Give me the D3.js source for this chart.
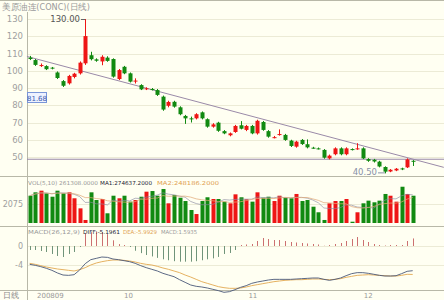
<!DOCTYPE html>
<meta charset="utf-8">
<html>
<head>
<style>
  body { margin: 0; background: #fffff2; }
  svg text { font-family: "DejaVu Sans", sans-serif; }
</style>
</head>
<body>
<div id="chart"></div>
<script src="https://d3js.org/d3.v7.min.js"></script>
<script>
  // daily candles, Sep - Dec 2008
  var opens  = [107.6,106.2,102.9,102.7,101.8,99.0,94.0,92.7,96.4,98.5,104.3,109.0,106.6,105.4,107.6,106.8,95.2,102.3,98.5,94.0,
                91.7,89.3,89.4,88.8,85.0,79.7,82.0,78.8,73.8,72.4,72.4,75.9,71.9,67.6,69.9,65.0,62.6,64.5,68.4,65.7,
                68.0,63.7,70.3,65.0,61.3,63.0,62.8,59.5,56.0,59.9,57.4,55.4,55.0,54.1,49.2,51.6,55.0,51.6,54.6,54.8,
                55.0,48.8,48.4,47.3,44.2,41.6,42.2,43.4,44.0,47.8];
  var highs  = [108.6,106.8,104.2,103.2,102.2,99.6,94.6,97.6,98.8,105.4,130.0,111.0,107.2,109.0,108.4,107.2,101.0,102.8,99.0,95.6,
                92.2,90.4,90.0,89.4,85.6,82.6,82.6,79.4,74.4,73.4,75.4,76.4,72.4,69.6,70.4,65.6,64.2,68.6,70.8,68.6,
                68.6,71.6,70.9,65.6,62.2,66.0,63.4,60.0,59.4,60.4,60.2,55.9,55.5,54.6,51.4,55.6,55.6,55.6,55.0,58.0,
                55.6,49.3,48.9,47.8,44.6,43.0,43.6,43.8,49.2,48.2];
  var lows   = [106.2,102.8,102.2,100.4,100.8,95.2,90.6,92.0,95.6,97.8,103.4,106.0,105.2,103.2,105.2,96.0,94.6,98.0,93.2,92.6,
                88.8,88.8,88.6,85.4,76.8,78.8,78.6,74.2,69.2,70.0,71.8,71.8,67.0,67.0,64.6,63.2,62.0,64.0,66.0,65.0,
                63.2,63.0,65.2,61.2,60.8,62.4,59.4,55.8,55.4,57.0,55.0,54.8,54.4,49.0,48.6,51.0,51.0,51.0,53.8,54.2,
                48.8,47.2,46.8,44.0,40.5,41.2,41.8,42.4,43.6,44.8];
  var closes = [106.8,103.4,103.3,100.9,101.5,95.8,91.3,97.0,98.3,104.7,120.1,106.7,105.8,108.1,105.7,96.6,100.4,98.5,93.7,94.3,
                89.2,89.8,89.1,86.0,77.5,81.9,79.2,74.8,72.4,72.1,74.8,72.4,67.6,68.9,65.2,63.7,63.7,68.0,66.4,68.0,
                63.7,71.0,65.7,61.8,61.5,63.3,59.9,56.4,58.9,57.5,55.6,55.2,54.8,49.6,50.8,55.0,51.6,55.0,54.4,55.0,
                49.2,47.8,47.4,44.5,41.5,42.6,43.2,42.8,48.6,47.5];
  var volumes = [298000,335000,353000,324000,287000,353000,324000,335000,270000,160000,33000,335000,251000,262000,106000,298000,270000,298000,233000,251000,
                 287000,342000,349000,298000,371000,215000,306000,276000,240000,142000,98000,240000,281000,262000,262000,233000,215000,313000,281000,259000,
                 233000,335000,276000,287000,240000,298000,276000,270000,317000,240000,251000,178000,117000,33000,215000,240000,240000,262000,14000,117000,
                 215000,244000,226000,244000,317000,298000,233000,396000,317000,298000];
  var diffs = [-3.86,-4.07,-4.35,-4.70,-5.12,-5.68,-6.11,-6.18,-6.04,-5.05,-3.72,-2.88,-2.60,-2.32,-2.39,-2.74,-2.88,-3.09,-3.30,-3.65,
               -4.14,-4.56,-4.91,-5.26,-5.75,-6.11,-6.46,-7.09,-7.65,-8.21,-8.49,-8.63,-8.84,-9.12,-9.40,-9.75,-9.61,-9.19,-8.70,-8.35,
               -7.86,-7.58,-7.37,-7.16,-7.02,-7.02,-7.02,-7.02,-6.95,-6.88,-6.81,-6.74,-6.74,-7.02,-7.23,-7.02,-6.74,-6.25,-5.82,-5.61,
               -5.61,-5.75,-5.96,-6.18,-6.32,-6.32,-6.25,-5.82,-5.33,-5.20];
  var deas  = [-3.65,-3.86,-4.14,-4.42,-4.63,-4.84,-4.98,-5.12,-5.26,-4.98,-4.56,-4.00,-3.58,-3.30,-3.09,-2.95,-2.95,-3.02,-3.16,-3.37,
               -3.65,-3.86,-4.00,-4.28,-4.63,-4.91,-5.26,-5.61,-6.11,-6.53,-7.02,-7.51,-7.86,-8.21,-8.56,-8.77,-8.91,-8.91,-8.84,-8.63,
               -8.35,-8.14,-7.93,-7.72,-7.51,-7.37,-7.23,-7.16,-7.09,-7.09,-7.02,-6.95,-6.95,-7.02,-7.09,-7.02,-6.88,-6.60,-6.39,-6.18,
               -6.11,-6.04,-6.11,-6.18,-6.25,-6.32,-6.32,-6.18,-5.96,-5.99];
  var macdBars = [-0.84,-0.84,-1.05,-1.26,-1.68,-2.10,-2.32,-1.68,-1.26,-0.21,2.70,2.90,3.00,2.90,2.50,1.20,0.40,0.21,-0.21,-1.00,
                  -1.50,-1.90,-2.20,-2.50,-2.80,-3.00,-3.20,-3.30,-3.30,-3.30,-3.20,-3.00,-2.80,-2.60,-2.30,-1.68,-1.47,-0.84,0.21,0.32,
                  0.42,1.05,1.68,1.47,1.26,1.26,1.05,0.84,0.74,0.63,0.53,0.42,0.32,0.05,0.21,0.42,0.63,1.05,1.47,1.89,
                  1.26,0.84,0.42,0.21,0.10,0.21,0.21,0.21,1.05,1.59];

  var priceTicks = [130,120,110,100,90,80,70,60,50];
  var volTicks = [207500], volTickLabels = ["2075"];
  var macdTicks = [0,-4], macdTickLabels = ["0","-4"];
  var monthIdx = [1.5,17.8,40.2,61], monthLabels = ["200809","10","11","12"];
  var trendLine = [{i:-0.5, p:108.3}, {i:74.6, p:44.0}];
  var hLinePrice = 48.7;
  var cursorPrice = 81.68;

  var volLegend = [
    {t: "VOL(5,10) 261308.0000", x: 28, w: 70, c: "#999"},
    {t: "MA1:274637.2000", x: 100, w: 52, c: "#223"},
    {t: "MA2:248186.2000", x: 157, w: 62, c: "#e0a050"}
  ];
  var macdLegend = [
    {t: "MACD(26,12,9)", x: 28, w: 52, c: "#999"},
    {t: "DIFF:-5.1961", x: 83, w: 37, c: "#223"},
    {t: "DEA:-5.9929", x: 123, w: 34, c: "#e0a050"},
    {t: "MACD:1.5935", x: 161, w: 36, c: "#999"}
  ];

  var W = 444, H = 300, n = closes.length;
  var red = "#ee1515", green = "#118a11";

  var svg = d3.select("#chart").append("svg")
      .attr("width", W).attr("height", H)
      .style("display", "block");

  var x = d3.scaleLinear().domain([0, n - 1]).range([29.7, 412.7]);
  var y = d3.scaleLinear().domain([50, 130]).range([157, 19]);
  var yv = d3.scaleLinear().domain([0, 207500]).range([223, 204]);
  var ym = d3.scaleLinear().domain([-4, 0]).range([265, 246]);

  // grids
  function grid(ticks, sc){
    svg.append("g").selectAll("line").data(ticks).enter().append("line")
      .attr("x1", 27).attr("x2", W)
      .attr("y1", function(d){ return Math.round(sc(d)) + 0.5; })
      .attr("y2", function(d){ return Math.round(sc(d)) + 0.5; })
      .attr("stroke", "#ecebd6");
  }
  grid(priceTicks, y); grid(volTicks, yv); grid(macdTicks, ym);

  // frame
  [0.5, 176.5, 226.5, 290.5].forEach(function(yy){
    svg.append("line").attr("x1", 0).attr("x2", W).attr("y1", yy).attr("y2", yy).attr("stroke", "#b8b8a8");
  });
  svg.append("line").attr("x1", 27.5).attr("x2", 27.5).attr("y1", 12).attr("y2", H).attr("stroke", "#b8b8a8");

  // axis labels
  function axisLabels(ticks, sc, labels, fs){
    svg.append("g").selectAll("text").data(ticks).enter().append("text")
      .attr("x", 23).attr("y", function(d){ return sc(d) + 3; })
      .attr("text-anchor", "end").attr("font-size", fs).attr("fill", "#a0a0a0")
      .text(function(d, i){ return labels ? labels[i] : d; });
  }
  axisLabels(priceTicks, y, null, 8.5);
  axisLabels(volTicks, yv, volTickLabels, 8);
  axisLabels(macdTicks, ym, macdTickLabels, 8);

  svg.append("text").attr("x", 2).attr("y", 10)
    .attr("font-family", "Noto Sans CJK SC").attr("font-size", 8.5).attr("fill", "#9a9a9a")
    .attr("textLength", 88).attr("lengthAdjust", "spacingAndGlyphs")
    .text("美原油连(CONC)(日线)");

  // drawn lines
  svg.append("line")
    .attr("x1", 27).attr("x2", W).attr("y1", y(hLinePrice)).attr("y2", y(hLinePrice))
    .attr("stroke", "#9a8aa8").attr("stroke-width", 1);
  svg.append("line")
    .attr("x1", x(trendLine[0].i)).attr("y1", y(trendLine[0].p))
    .attr("x2", x(trendLine[1].i)).attr("y2", y(trendLine[1].p))
    .attr("stroke", "#9a8aa8").attr("stroke-width", 1);

  // candles
  var idx = d3.range(n);
  function col(i){ return closes[i] >= opens[i] ? red : green; }
  var c = svg.append("g").selectAll("g").data(idx).enter().append("g");
  c.append("line")
    .attr("x1", function(i){ return Math.round(x(i)) + 0.5; })
    .attr("x2", function(i){ return Math.round(x(i)) + 0.5; })
    .attr("y1", function(i){ return y(highs[i]); })
    .attr("y2", function(i){ return y(lows[i]); })
    .attr("stroke", col);
  c.append("rect")
    .attr("x", function(i){ return Math.round(x(i)) - 1.5; })
    .attr("width", 4)
    .attr("y", function(i){ return y(Math.max(opens[i], closes[i])); })
    .attr("height", function(i){ return Math.max(1, Math.abs(y(opens[i]) - y(closes[i]))); })
    .attr("fill", col);

  // high / low marks
  var hi = d3.maxIndex(highs), lo = d3.minIndex(lows);
  svg.append("line").attr("x1", 81).attr("x2", x(hi)).attr("y1", y(highs[hi]) + 0.5).attr("y2", y(highs[hi]) + 0.5)
    .attr("stroke", "#666");
  svg.append("text").attr("x", 80).attr("y", y(highs[hi]) + 3).attr("text-anchor", "end")
    .attr("font-size", 8.5).attr("fill", "#555").text(highs[hi].toFixed(2));
  svg.append("line").attr("x1", 378).attr("x2", x(lo)).attr("y1", y(lows[lo]) - 0.5).attr("y2", y(lows[lo]) - 0.5)
    .attr("stroke", "#8890a8");
  svg.append("text").attr("x", 377).attr("y", y(lows[lo]) + 2).attr("text-anchor", "end")
    .attr("font-size", 8.5).attr("fill", "#8890a8").text(lows[lo].toFixed(2));

  // crosshair value box
  svg.append("rect").attr("x", 27.5).attr("y", 92.5).attr("width", 19).attr("height", 10)
    .attr("fill", "#eef2ff").attr("stroke", "#7a96d8");
  svg.append("text").attr("x", 37).attr("y", 100.5).attr("text-anchor", "middle")
    .attr("font-size", 7).attr("fill", "#3a5ab0").text(cursorPrice.toFixed(2));

  // volume
  svg.append("g").selectAll("rect").data(idx).enter().append("rect")
    .attr("x", function(i){ return Math.round(x(i)) - 1.5; })
    .attr("width", 4)
    .attr("y", function(i){ return yv(volumes[i]); })
    .attr("height", function(i){ return yv(0) - yv(volumes[i]); })
    .attr("fill", col);

  function ma(k){
    return idx.map(function(i){ return d3.mean(volumes.slice(Math.max(0, i - k + 1), i + 1)); });
  }
  var ma5 = ma(5), ma10 = ma(10);
  svg.append("path").datum(ma5)
    .attr("fill", "none").attr("stroke", "#8a8aa0").attr("stroke-width", 0.8).attr("opacity", 0.8)
    .attr("d", d3.line().x(function(d, i){ return x(i); }).y(function(d){ return yv(d); }));
  svg.append("path").datum(ma10)
    .attr("fill", "none").attr("stroke", "#e0a878").attr("stroke-width", 0.8).attr("opacity", 0.9)
    .attr("d", d3.line().x(function(d, i){ return x(i); }).y(function(d){ return yv(d); }));

  function legend(items, yy){
    svg.append("g").selectAll("text").data(items).enter().append("text")
      .attr("x", function(d){ return d.x; }).attr("y", yy)
      .attr("font-size", 5.5).attr("fill", function(d){ return d.c; })
      .attr("textLength", function(d){ return d.w; }).attr("lengthAdjust", "spacingAndGlyphs")
      .text(function(d){ return d.t; });
  }
  legend(volLegend, 185);

  // macd
  svg.append("g").selectAll("line").data(idx).enter().append("line")
    .attr("x1", function(i){ return Math.round(x(i)) + 0.5; })
    .attr("x2", function(i){ return Math.round(x(i)) + 0.5; })
    .attr("y1", ym(0))
    .attr("y2", function(i){ return ym(macdBars[i]); })
    .attr("stroke", function(i){ return macdBars[i] >= 0 ? "#cc7070" : "#70947a"; });
  svg.append("path").datum(deas)
    .attr("fill", "none").attr("stroke", "#e2a850").attr("stroke-width", 0.9)
    .attr("d", d3.line().x(function(d, i){ return x(i); }).y(function(d){ return ym(d); }));
  svg.append("path").datum(diffs)
    .attr("fill", "none").attr("stroke", "#4a5878").attr("stroke-width", 0.9)
    .attr("d", d3.line().x(function(d, i){ return x(i); }).y(function(d){ return ym(d); }));

  legend(macdLegend, 234);

  // date axis
  svg.append("text").attr("x", 3).attr("y", 298)
    .attr("font-family", "Noto Sans CJK SC").attr("font-size", 8).attr("fill", "#888").text("日线");
  svg.append("g").selectAll("text").data(monthIdx).enter().append("text")
    .attr("x", function(d, i){ return i === 0 ? 37 : x(d); })
    .attr("y", 298).attr("font-size", 7).attr("fill", "#999")
    .attr("text-anchor", function(d, i){ return i === 0 ? "start" : "middle"; })
    .text(function(d, i){ return monthLabels[i]; });
</script>
</body>
</html>
